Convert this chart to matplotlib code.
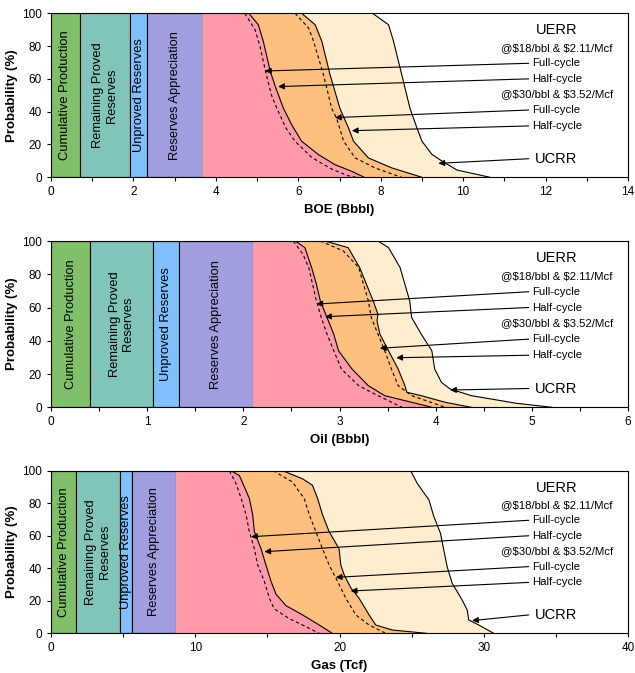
#!/usr/bin/env python
# coding:utf-8
"""plot.py - UERR / UCRR probability curves for BOE, oil and gas"""

import matplotlib
matplotlib.use('Agg')
import matplotlib.pyplot as plt

plt.rcParams['font.family'] = ['Liberation Sans', 'DejaVu Sans']

# stacked resource categories (right edge of each box)
box_names = ['Cumulative Production', 'Remaining Proved\nReserves',
             'Unproved Reserves', 'Reserves Appreciation']
box_colors = ['#80c06a', '#80c4ba', '#80c0ff', '#a09edf']
boe_box_ends = [0.70, 1.92, 2.34, 3.68]
oil_box_ends = [0.41, 1.057, 1.33, 2.10]
gas_box_ends = [1.75, 4.75, 5.64, 8.66]

# ---- BOE (Bbbl) ----
boe_full18_x = [4.70, 4.95, 5.07, 5.21, 5.35, 5.48, 5.70, 5.92, 6.33, 6.81, 7.20, 7.40]
boe_full18_y = [100, 90, 80, 64, 50, 42, 30, 22, 12, 5, 1, 0]
boe_half18_x = [4.80, 5.03, 5.15, 5.32, 5.44, 5.64, 5.84, 6.08, 6.49, 6.89, 7.30, 7.60]
boe_half18_y = [100, 93, 83, 64.6, 55.5, 42, 32, 22, 13.8, 7.7, 3.6, 0]
boe_full30_x = [5.92, 6.25, 6.37, 6.61, 6.81, 6.93, 7.10, 7.38, 7.86, 8.50]
boe_full30_y = [100, 91, 83, 62.6, 42, 36, 22, 11.8, 5.7, 0]
boe_half30_x = [6.08, 6.41, 6.57, 6.77, 7.01, 7.22, 7.34, 7.70, 8.27, 9.00]
boe_half30_y = [100, 93, 83, 62.6, 42, 30, 22, 11.8, 5.7, 0]
boe_ucrr_x = [7.80, 8.19, 8.31, 8.51, 8.71, 8.88, 9.00, 9.24, 9.48, 9.85, 10.65]
boe_ucrr_y = [100, 93, 83, 62.6, 42, 30, 22, 14, 10, 4.4, 0]
boe_tips_x = [5.19, 5.51, 6.89, 7.30, 9.40]
boe_tips_y = [64.8, 55.3, 36.4, 28.4, 8.5]

# ---- Oil (Bbbl) ----
oil_full18_x = [2.52, 2.62, 2.68, 2.76, 2.81, 2.87, 2.94, 3.02, 3.20, 3.40, 3.65]
oil_full18_y = [100, 92, 84, 64, 54, 44, 34, 23, 13, 7, 0]
oil_half18_x = [2.54, 2.64, 2.71, 2.76, 2.80, 2.87, 2.94, 2.99, 3.13, 3.30, 3.47, 3.75, 3.96]
oil_half18_y = [100, 96, 84, 74, 64, 54, 44, 34, 23, 13, 7, 3, 0]
oil_full30_x = [2.80, 3.04, 3.20, 3.25, 3.30, 3.33, 3.40, 3.47, 3.54, 3.61, 3.75, 4.10]
oil_full30_y = [100, 94, 84, 74, 64, 54, 44, 34, 23, 13, 7, 0]
oil_half30_x = [2.85, 3.09, 3.21, 3.28, 3.35, 3.40, 3.39, 3.42, 3.51, 3.61, 3.68, 3.70, 3.85, 4.10, 4.37]
oil_half30_y = [100, 96, 84, 74, 64, 56, 52, 44, 34, 23, 13, 9, 7, 3, 0]
oil_ucrr_x = [3.40, 3.51, 3.63, 3.68, 3.73, 3.75, 3.85, 3.96, 3.99, 4.06, 4.15, 4.37, 4.84, 5.21]
oil_ucrr_y = [100, 96, 84, 74, 64, 54, 44, 34, 23, 15, 11, 7, 2.4, 0]
oil_tips_x = [2.76, 2.85, 3.42, 3.59, 4.15]
oil_tips_y = [62.1, 54.5, 35.5, 29.8, 10.4]

# ---- Gas (Tcf) ----
gas_full18_x = [12.37, 12.83, 13.18, 13.52, 13.75, 14.10, 14.33, 14.79, 15.14, 15.48, 16.52, 17.44, 18.59]
gas_full18_y = [100, 92, 83, 73, 62.5, 52, 42, 32, 21.5, 15, 9, 5.1, 0]
gas_half18_x = [12.49, 13.06, 13.75, 13.98, 14.10, 14.56, 14.90, 15.25, 15.60, 16.29, 17.44, 18.59, 19.50]
gas_half18_y = [100, 97, 83, 73, 62.5, 52, 42, 32, 24, 17, 11.3, 5.1, 0]
gas_full30_x = [15.40, 16.75, 17.21, 17.55, 17.90, 18.36, 18.82, 19.28, 19.86, 20.44, 21.13, 22.05, 23.20]
gas_full30_y = [100, 93, 87, 83, 73, 62.5, 52, 42, 32, 21.5, 11.3, 5.1, 0]
gas_half30_x = [16.06, 17.44, 18.13, 18.48, 18.82, 19.28, 19.97, 20.09, 20.32, 20.78, 21.36, 22.05, 22.51, 23.66, 26.00]
gas_half30_y = [100, 95, 91, 83, 73, 62.5, 52, 42, 36, 28, 21.5, 11.3, 5.1, 2, 0]
gas_ucrr_x = [24.93, 25.39, 26.20, 26.54, 27.00, 27.23, 27.46, 27.81, 28.50, 28.85, 28.96, 29.65, 30.69]
gas_ucrr_y = [100, 92.2, 82, 71.8, 61.5, 51.3, 41, 30.8, 20.5, 14.4, 8.2, 5.1, 0]
gas_tips_x = [13.87, 14.79, 19.74, 20.78, 29.19]
gas_tips_y = [59.4, 50.2, 34.4, 26.0, 7.8]

arrow_labels = ['Full-cycle', 'Half-cycle', 'Full-cycle', 'Half-cycle', 'UCRR']
arrow_label_y = [0.695, 0.60, 0.41, 0.313, 0.113]


def draw_panel(ax, box_ends, curves, tips_x, tips_y, xmax, major, minor, xlabel):
  full18, half18, full30, half30, ucrr = curves
  # category boxes
  start = 0
  for name, color, end in zip(box_names, box_colors, box_ends):
    ax.axvspan(start, end, facecolor=color, edgecolor='black', lw=0.8, zorder=1)
    ax.text((start + end) / 2, 50, name, rotation=90, ha='center', va='center',
            fontsize=9.3, multialignment='center', zorder=5)
    start = end
  # pink: from last box to half-cycle @$18
  ax.fill([box_ends[-1], box_ends[-1]] + half18[0],
          [0, 100] + half18[1], facecolor='#ff9aaa', edgecolor='none', zorder=1)
  # orange: between half-cycle @$18 and half-cycle @$30
  ax.fill(half30[0] + half18[0][::-1], half30[1] + half18[1][::-1],
          facecolor='#ffc07f', edgecolor='none', zorder=1)
  # cream: between half-cycle @$30 and UCRR
  ax.fill(ucrr[0] + half30[0][::-1], ucrr[1] + half30[1][::-1],
          facecolor='#ffedcf', edgecolor='none', zorder=1)
  for cx, cy in (half18, half30, ucrr):
    ax.plot(cx, cy, color='black', lw=0.8, zorder=3)
  for cx, cy in (full18, full30):
    ax.plot(cx, cy, color='black', lw=0.8, ls=(0, (3, 2.5)), zorder=3)

  # labels and arrows
  ax.text(0.877, 0.895, 'UERR', transform=ax.transAxes, ha='center', va='center', fontsize=10.5)
  ax.text(0.877, 0.79, r'@\$18/bbl & \$2.11/Mcf', transform=ax.transAxes,
          ha='center', va='center', fontsize=8.2)
  ax.text(0.877, 0.505, r'@\$30/bbl & \$3.52/Mcf', transform=ax.transAxes,
          ha='center', va='center', fontsize=8.2)
  for lab, ly, tx, ty in zip(arrow_labels, arrow_label_y, tips_x, tips_y):
    big = lab == 'UCRR'
    ax.text(0.838 if big else 0.833, ly, lab, transform=ax.transAxes, ha='left', va='center',
            fontsize=10.5 if big else 8.2, zorder=5)
    ax.annotate('', xy=(tx, ty), xycoords='data',
                xytext=(0.828, ly), textcoords='axes fraction',
                arrowprops=dict(arrowstyle='-|>', color='black', lw=0.8,
                                mutation_scale=9, shrinkA=0, shrinkB=0), zorder=4)

  ax.set_xlim(0, xmax)
  ax.set_ylim(0, 100)
  ax.set_xticks(major)
  ax.set_xticks(minor, minor=True)
  ax.set_yticks([0, 20, 40, 60, 80, 100])
  ax.tick_params(axis='both', which='both', direction='out', labelsize=8.5, length=3, width=0.8)
  ax.set_xlabel(xlabel, fontsize=9.5, fontweight='bold', labelpad=4)
  ax.set_ylabel('Probability (%)', fontsize=9.5, fontweight='bold')
  ax.yaxis.set_label_coords(-0.057, 0.5)
  for sp in ax.spines.values():
    sp.set_linewidth(0.8)
    sp.set_zorder(6)


def main():
  fig = plt.figure(figsize=(6.35, 6.73), dpi=100)
  ax1 = fig.add_axes([0.0803, 0.7366, 0.9087, 0.2437])
  ax2 = fig.add_axes([0.0803, 0.3948, 0.9087, 0.2471])
  ax3 = fig.add_axes([0.0803, 0.0590, 0.9087, 0.2416])

  draw_panel(ax1, boe_box_ends,
             [(boe_full18_x, boe_full18_y), (boe_half18_x, boe_half18_y),
              (boe_full30_x, boe_full30_y), (boe_half30_x, boe_half30_y),
              (boe_ucrr_x, boe_ucrr_y)],
             boe_tips_x, boe_tips_y, 14, range(0, 15, 2), range(0, 15, 1), 'BOE (Bbbl)')
  draw_panel(ax2, oil_box_ends,
             [(oil_full18_x, oil_full18_y), (oil_half18_x, oil_half18_y),
              (oil_full30_x, oil_full30_y), (oil_half30_x, oil_half30_y),
              (oil_ucrr_x, oil_ucrr_y)],
             oil_tips_x, oil_tips_y, 6, range(0, 7), [i * 0.5 for i in range(13)], 'Oil (Bbbl)')
  draw_panel(ax3, gas_box_ends,
             [(gas_full18_x, gas_full18_y), (gas_half18_x, gas_half18_y),
              (gas_full30_x, gas_full30_y), (gas_half30_x, gas_half30_y),
              (gas_ucrr_x, gas_ucrr_y)],
             gas_tips_x, gas_tips_y, 40, range(0, 41, 10), range(0, 41, 5), 'Gas (Tcf)')

  fig.savefig('out.png', dpi=100)
  plt.close(fig)


if __name__ == '__main__':
  main()
